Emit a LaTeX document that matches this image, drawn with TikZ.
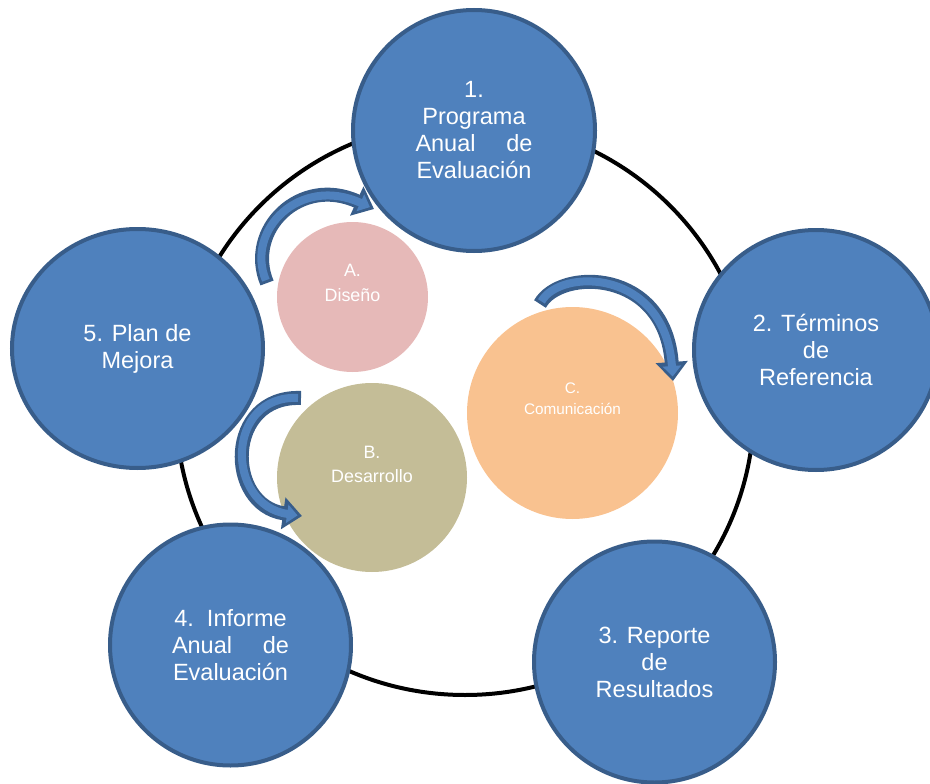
\documentclass[tikz,border=0pt]{standalone}
\usepackage{fontspec}
\setmainfont{Liberation Sans}
\usetikzlibrary{shapes.geometric,arrows.meta,calc}
\definecolor{cblue}{HTML}{4F81BD}
\definecolor{cbord}{HTML}{385D8A}
\definecolor{cpink}{HTML}{E6B9B8}
\definecolor{colive}{HTML}{C4BD97}
\definecolor{corange}{HTML}{F9C290}
\begin{document}
\begin{tikzpicture}[x=1pt,y=-1pt,
  bigc/.style={ellipse, draw=cbord, line width=4pt, fill=cblue, inner sep=0pt,
    text=white, align=center, font=\fontsize{23.5}{27}\selectfont},
  smallc/.style={ellipse, inner sep=0pt, draw=none},
  smalltxt/.style={text=white, align=center, inner sep=0pt},
  ring/.style={ellipse, draw=black, line width=4pt, inner sep=0pt},
  barrow/.style={line width=14pt, draw=cbord, -{Triangle[length=19pt,width=31pt]}},
  barrowin/.style={line width=8pt, draw=cblue, shorten <=3pt, shorten >=4.5pt,
    -{Triangle[length=10.5pt,width=18pt]}},
]
\useasboundingbox (0,0) rectangle (930,784);

% outer ring
\node[ring, minimum width=578pt, minimum height=574pt] (ring) at (465,408) {};

% small circles
\node[smallc, fill=cpink, minimum width=151pt, minimum height=150pt] (A) at (352.5,297) {};
\node[smallc, fill=colive, minimum width=190pt, minimum height=189pt] (B) at (372,477.5) {};
\node[smallc, fill=corange, minimum width=211pt, minimum height=212pt] (C) at (572.5,413) {};

% big circles
\node[bigc, minimum width=242pt, minimum height=241pt] (n1) at (474,130.5)
  {1.\\Programa\\\makebox[117pt]{Anual\hfill de}\\Evaluación};
\node[bigc, minimum width=244pt, minimum height=240pt] (n2) at (816,350)
  {2. Términos\\de\\Referencia};
\node[bigc, minimum width=241pt, minimum height=241pt] (n3) at (654.5,662)
  {3. Reporte\\de\\Resultados};
\node[bigc, minimum width=241pt, minimum height=241pt] (n4) at (230.5,645)
  {4.\ \ Informe\\\makebox[117pt]{Anual\hfill de}\\Evaluación};
\node[bigc, minimum width=251pt, minimum height=239pt] (n5) at (137.5,348.5)
  {5. Plan de\\Mejora};

% small circle labels
\node[smalltxt, font=\fontsize{17.9}{25}\selectfont] (tA) at (352.5,282.5) {A.\\Diseño};
\node[smalltxt, font=\fontsize{17.9}{24}\selectfont] (tB) at (372,464) {B.\\Desarrollo};
\node[smalltxt, font=\fontsize{15.3}{21}\selectfont] (tC) at (572.5,398.5) {C.\\Comunicación};

% curved block arrows
\coordinate (a1s) at (267,283);
\coordinate (a1e) at (374,209);
\coordinate (a2s) at (540,304);
\coordinate (a2e) at (673,381);
\coordinate (a3s) at (301,398);
\coordinate (a3e) at (302,516);

\draw[barrow]   (a1s) .. controls (245,230) and (300,175) .. (a1e);
\draw[barrowin] (a1s) .. controls (245,230) and (300,175) .. (a1e);
\draw[barrow]   (a2s) .. controls (560,268) and (665,268) .. (a2e);
\draw[barrowin] (a2s) .. controls (560,268) and (665,268) .. (a2e);
\draw[barrow]   (a3s) .. controls (225,395) and (225,505) .. (a3e);
\draw[barrowin] (a3s) .. controls (225,395) and (225,505) .. (a3e);
\end{tikzpicture}
\end{document}
